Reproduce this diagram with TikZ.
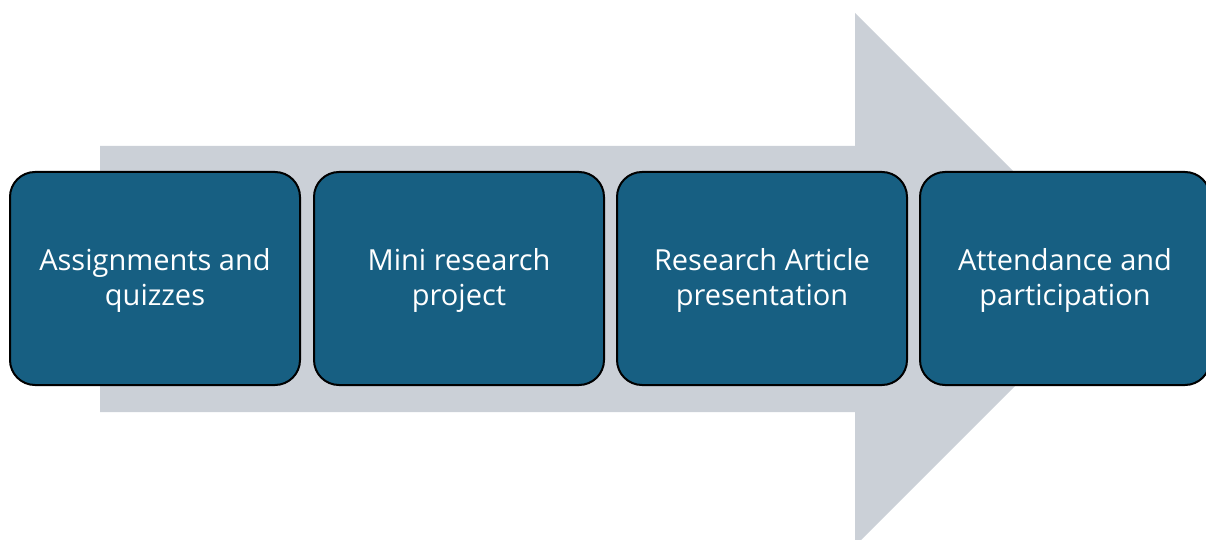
\documentclass[tikz,border=0pt]{standalone}
\usepackage{fontspec}
\setmainfont{Open Sans}
\definecolor{arrowgray}{HTML}{CBD0D7}
\definecolor{boxblue}{HTML}{175F82}
\begin{document}
\begin{tikzpicture}[x=1pt,y=-1pt,
  stagebox/.style={draw=black, line width=2pt, fill=boxblue, rounded corners=25pt,
    minimum width=290pt, minimum height=213pt, inner sep=0pt},
  stagetext/.style={text=white, align=center,
    font=\fontsize{29}{35}\selectfont, inner sep=0pt}]
\useasboundingbox (0,0) rectangle (1206,540);
\clip (0,0) rectangle (1206,540);
% broad background arrow
\fill[arrowgray] (100,146) -- (855,146) -- (855,13) -- (1121.5,279.5)
  -- (855,546) -- (855,412) -- (100,412) -- cycle;
% stages
\node[stagebox] (s1) at (155,278.5) {};
\node[stagebox] (s2) at (459,278.5) {};
\node[stagebox] (s3) at (762,278.5) {};
\node[stagebox] (s4) at (1065,278.5) {};
% stage labels, set a little below the box centres
\foreach \n/\t in {1/{Assignments and\\quizzes}, 2/{Mini research\\project},
    3/{Research Article\\presentation}, 4/{Attendance and\\participation}}
  \node[stagetext] (t\n) at ([yshift=-2pt]s\n.center) {\t};
\end{tikzpicture}
\end{document}
